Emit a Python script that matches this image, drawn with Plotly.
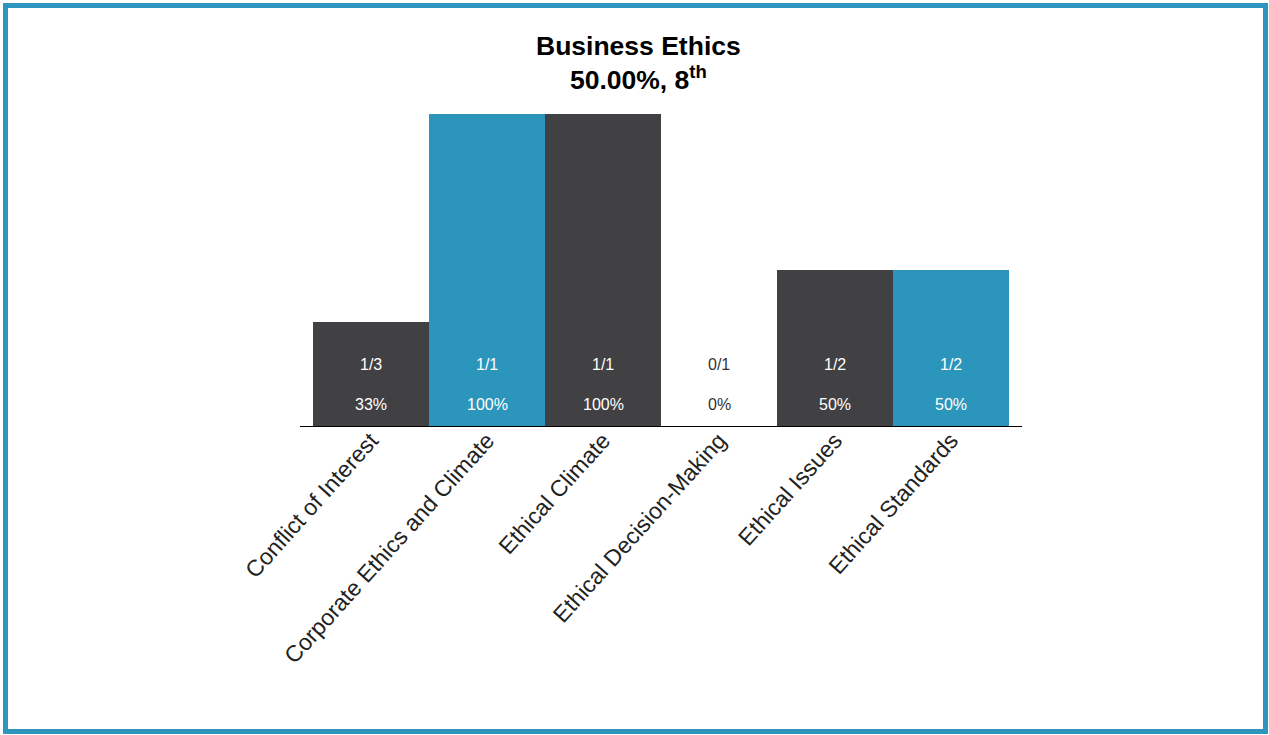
import plotly.graph_objects as go

# topic scores
categories = [
    "Conflict of Interest",
    "Corporate Ethics and Climate",
    "Ethical Climate",
    "Ethical Decision-Making",
    "Ethical Issues",
    "Ethical Standards",
]
correct = [1, 1, 1, 0, 1, 1]
totals = [3, 1, 1, 1, 2, 2]
bar_colors = ["#414042", "#2b95bb", "#414042", "#414042", "#414042", "#2b95bb"]

title_text = "<b>Business Ethics<br>50.00%, 8<sup>th</sup></b>"

FONT = "Arial, Liberation Sans, sans-serif"

shares = [c / t for c, t in zip(correct, totals)]
xs = list(range(len(categories)))

fig = go.Figure(
    go.Bar(
        x=xs,
        y=shares,
        marker=dict(color=bar_colors, line=dict(width=0)),
        hoverinfo="skip",
    )
)

# fraction and percent labels sitting above the baseline
for x, c, t, s in zip(xs, correct, totals, shares):
    col = "#ffffff" if s > 0 else "#333333"
    fig.add_annotation(
        x=x, y=0, text=f"{c}/{t}", showarrow=False, yshift=62,
        font=dict(family=FONT, size=16, color=col),
    )
    fig.add_annotation(
        x=x, y=0, text=f"{round(s * 100)}%", showarrow=False, yshift=22,
        font=dict(family=FONT, size=16, color=col),
    )

# title as an annotation so the two lines land where wanted
fig.add_annotation(
    x=(638 - 300) / 722, xref="paper", y=(426 - 63) / 312, yref="paper",
    xanchor="center", yanchor="middle", showarrow=False,
    text=title_text,
    font=dict(family=FONT, size=26.5, color="#000000"),
)

# outer frame
fig.add_shape(
    type="rect", xref="paper", yref="paper",
    x0=(5.5 - 300) / 722, x1=(1265.5 - 300) / 722,
    y0=(426 - 731.5) / 312, y1=(426 - 5.5) / 312,
    line=dict(color="#2e96be", width=5), fillcolor="rgba(0,0,0,0)", layer="below",
)

fig.update_layout(
    width=1269,
    height=735,
    margin=dict(l=300, r=247, t=114, b=309),
    paper_bgcolor="white",
    plot_bgcolor="white",
    bargap=0,
    showlegend=False,
    xaxis=dict(
        range=[-0.5 - 13 / 116, 5.5 + 13 / 116],
        tickvals=xs,
        ticktext=categories,
        tickangle=-48,
        tickfont=dict(family=FONT, size=23, color="#222222"),
        ticklabelstandoff=-9,
        showline=True, linecolor="#000000", linewidth=1,
        showgrid=False, zeroline=False, ticks="",
    ),
    yaxis=dict(
        range=[0, 1],
        visible=False,
        showgrid=False, zeroline=False,
    ),
)

fig.write_html(
    "out.html",
    config={"displayModeBar": False},
    post_script="document.body.style.margin='0';",
)
